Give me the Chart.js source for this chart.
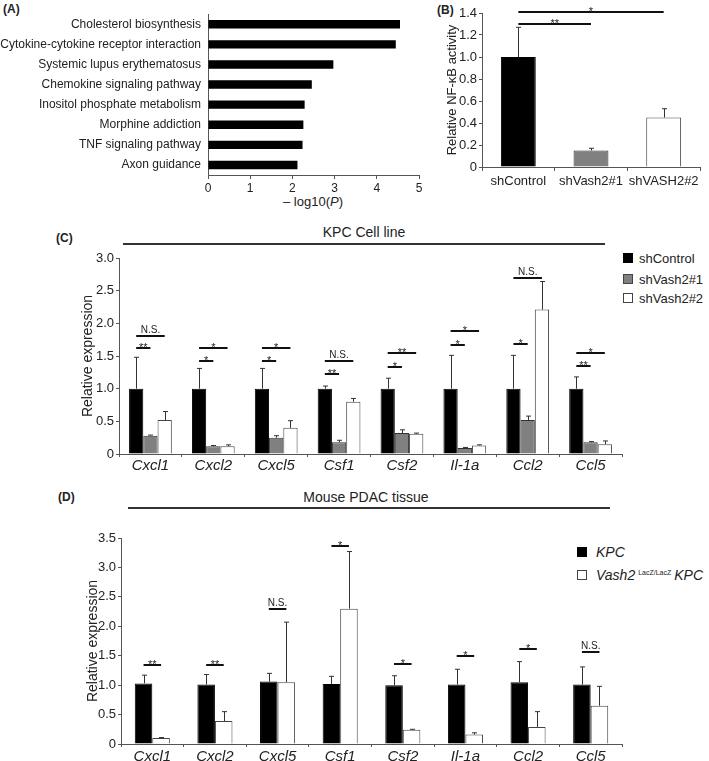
<!DOCTYPE html>
<html>
<head>
<meta charset="utf-8">
<script src="https://cdn.jsdelivr.net/npm/chart.js@4.4.1/dist/chart.umd.min.js"></script>
<style>
body{margin:0;background:#fff;width:709px;height:761px;position:relative;overflow:hidden;font-family:"Liberation Sans",Arial,sans-serif;color:#222;}
canvas{position:absolute;}
.t{position:absolute;white-space:nowrap;line-height:1;}
.lbl{font-weight:bold;font-size:12px;}
.head{font-size:14px;transform:translateX(-50%);}
.hline{position:absolute;height:2px;background:#333;}
.sq{position:absolute;width:10px;height:10px;box-sizing:border-box;border:1px solid #444;}
.leg{font-size:13px;}
</style>
</head>
<body>

<div class="t lbl" style="left:3px;top:3px">(A)</div>
<div class="t lbl" style="left:437px;top:4px">(B)</div>
<div class="t lbl" style="left:56px;top:232px">(C)</div>
<div class="t lbl" style="left:58px;top:491px">(D)</div>

<div class="t head" style="left:364px;top:225px">KPC Cell line</div>
<div class="hline" style="left:123px;top:243px;width:482px"></div>
<div class="t head" style="left:366px;top:490px">Mouse PDAC tissue</div>
<div class="hline" style="left:128px;top:507px;width:482px"></div>

<div class="t" style="left:313px;top:195px;font-size:13px;transform:translateX(-50%)">– log10(<i>P</i>)</div>

<div class="sq" style="left:623px;top:253px;background:#000;border-color:#000"></div>
<div class="t leg" style="left:639px;top:252px">shControl</div>
<div class="sq" style="left:623px;top:274px;background:#808080"></div>
<div class="t leg" style="left:639px;top:273px">shVash2#1</div>
<div class="sq" style="left:623px;top:293px;background:#fff"></div>
<div class="t leg" style="left:639px;top:292px">shVash2#2</div>

<div class="sq" style="left:577px;top:547px;background:#000;border-color:#000"></div>
<div class="t leg" style="left:596px;top:545px;font-size:14px;font-style:italic">KPC</div>
<div class="sq" style="left:577px;top:570px;background:#fff"></div>
<div class="t leg" style="left:596px;top:568px;font-size:14px"><i>Vash2</i><span style="font-size:7px;vertical-align:5px;margin-left:3px;margin-right:3px">LacZ/LacZ</span><i>KPC</i></div>

<canvas id="chartA" width="470" height="212" style="left:0;top:0"></canvas>
<canvas id="chartB" width="309" height="200" style="left:400px;top:0"></canvas>
<canvas id="chartC" width="709" height="250" style="left:0;top:225px"></canvas>
<canvas id="chartD" width="709" height="246" style="left:0;top:515px"></canvas>

<script>
// (A) pathway enrichment
const pathwayNames = ["Cholesterol biosynthesis","Cytokine-cytokine receptor interaction","Systemic lupus erythematosus","Chemokine signaling pathway","Inositol phosphate metabolism","Morphine addiction","TNF signaling pathway","Axon guidance"];
const pathwayLogP = [4.55, 4.45, 2.97, 2.46, 2.29, 2.26, 2.24, 2.12];

// (B) NF-kB reporter
const nfkbGroups = ["shControl","shVash2#1","shVASH2#2"];
const nfkbActivity = [1.0, 0.15, 0.45];
const nfkbErrTop = [1.27, 0.17, 0.53];
const nfkbSigTop = [1.30, 1.41];
const nfkbSigText = ["**","*"];

// (C) KPC cell line
const genes = ["Cxcl1","Cxcl2","Cxcl5","Csf1","Csf2","Il-1a","Ccl2","Ccl5"];
const cellControl = [1, 1, 1, 1, 1, 1, 1, 1];
const cellControlErr = [1.48, 1.31, 1.31, 1.04, 1.16, 1.51, 1.51, 1.18];
const cellSh1 = [0.28, 0.12, 0.25, 0.18, 0.32, 0.09, 0.52, 0.18];
const cellSh1Err = [0.29, 0.13, 0.28, 0.21, 0.37, 0.10, 0.58, 0.19];
const cellSh2 = [0.52, 0.12, 0.40, 0.80, 0.31, 0.13, 2.21, 0.15];
const cellSh2Err = [0.65, 0.14, 0.51, 0.85, 0.32, 0.14, 2.64, 0.20];
const cellSigNear = [1.62, 1.43, 1.43, 1.22, 1.33, 1.67, 1.69, 1.34];
const cellSigNearText = ["**","*","*","**","*","*","*","**"];
const cellSigFar = [1.81, 1.62, 1.62, 1.43, 1.54, 1.89, 2.70, 1.54];
const cellSigFarText = ["N.S.","*","*","N.S.","**","*","N.S.","*"];

// (D) mouse PDAC tissue
const tissueKPC = [1.03, 1.01, 1.06, 1.02, 1.00, 1.01, 1.05, 1.01];
const tissueKPCErr = [1.17, 1.18, 1.20, 1.15, 1.16, 1.27, 1.40, 1.31];
const tissueVash2 = [0.10, 0.39, 1.05, 2.30, 0.24, 0.16, 0.29, 0.65];
const tissueVash2Err = [0.11, 0.55, 2.07, 3.27, 0.25, 0.19, 0.55, 0.98];
const tissueSig = [1.35, 1.35, 2.30, 3.37, 1.36, 1.49, 1.61, 1.57];
const tissueSigText = ["**","**","N.S.","*","*","*","*","N.S."];

Chart.defaults.font.family = "'Liberation Sans', Arial, sans-serif";
Chart.defaults.color = "#222";
Chart.defaults.animation = false;

const axisColor = "#555";
const fmt = v => v === 0 ? "0" : v.toFixed(1);

function errorBars(errs){
  return {
    id: "errorBars",
    afterDatasetsDraw(chart){
      const ctx = chart.ctx, ys = chart.scales.y;
      ctx.save();
      ctx.strokeStyle = "#333";
      ctx.lineWidth = 1;
      errs.forEach((err, i) => {
        if(!err) return;
        chart.getDatasetMeta(i).data.forEach((bar, j) => {
          const x = Math.round(bar.x) + 0.5;
          const top = ys.getPixelForValue(err[j]);
          ctx.beginPath();
          ctx.moveTo(x, bar.y);
          ctx.lineTo(x, top);
          ctx.moveTo(x - 2.5, top);
          ctx.lineTo(x + 2.5, top);
          ctx.stroke();
        });
      });
      ctx.restore();
    }
  };
}

// items: [dsFrom, idxFrom, dsTo, idxTo, value, text]
function sigLines(items){
  return {
    id: "sigLines",
    afterDatasetsDraw(chart){
      const ctx = chart.ctx, ys = chart.scales.y;
      ctx.save();
      ctx.strokeStyle = "#111";
      ctx.fillStyle = "#222";
      ctx.lineWidth = 2;
      ctx.textAlign = "center";
      items.forEach(it => {
        const x1 = chart.getDatasetMeta(it[0]).data[it[1]].x;
        const x2 = chart.getDatasetMeta(it[2]).data[it[3]].x;
        const y = Math.round(ys.getPixelForValue(it[4]));
        ctx.beginPath();
        ctx.moveTo(x1, y);
        ctx.lineTo(x2, y);
        ctx.stroke();
        if(it[5] === "N.S."){
          ctx.font = "10px 'Liberation Sans', Arial";
          ctx.fillText(it[5], (x1 + x2) / 2, y - 3);
        } else {
          ctx.font = "11px 'Liberation Sans', Arial";
          ctx.fillText(it[5], (x1 + x2) / 2, y + 3);
        }
      });
      ctx.restore();
    }
  };
}

/* (A) */
new Chart(document.getElementById("chartA"), {
  type: "bar",
  data: {
    labels: pathwayNames,
    datasets: [{data: pathwayLogP, backgroundColor: "#000", barPercentage: 0.42, categoryPercentage: 1}]
  },
  options: {
    indexAxis: "y",
    responsive: false,
    layout: {padding: {top: 13, right: 51, left: 0, bottom: 0}},
    plugins: {legend: {display: false}, tooltip: {enabled: false}},
    scales: {
      x: {
        min: 0, max: 5,
        ticks: {stepSize: 1, font: {size: 12}, padding: 2, maxRotation: 0},
        grid: {drawOnChartArea: false, tickLength: 4, color: axisColor},
        border: {color: axisColor},
        afterFit: s => { s.height = 37; }
      },
      y: {
        ticks: {font: {size: 12}, padding: 7, autoSkip: false},
        grid: {drawOnChartArea: false, drawTicks: false, color: axisColor},
        border: {color: axisColor},
        afterFit: s => { s.width = 208; }
      }
    }
  }
});

/* (B) */
new Chart(document.getElementById("chartB"), {
  type: "bar",
  data: {
    labels: nfkbGroups,
    datasets: [{
      data: nfkbActivity,
      backgroundColor: ["#000", "#808080", "#fff"],
      borderColor: ["#000", "#333", "#444"],
      borderWidth: 1,
      barPercentage: 0.48, categoryPercentage: 1
    }]
  },
  options: {
    responsive: false,
    layout: {padding: {top: 13, right: 9, left: 41, bottom: 0}},
    plugins: {legend: {display: false}, tooltip: {enabled: false}},
    scales: {
      x: {
        ticks: {font: {size: 13}, padding: 3, maxRotation: 0, autoSkip: false},
        grid: {drawOnChartArea: false, tickLength: 4, color: axisColor},
        border: {color: axisColor},
        afterFit: s => { s.height = 33; }
      },
      y: {
        min: 0, max: 1.4,
        ticks: {stepSize: 0.2, font: {size: 13}, padding: 2, callback: fmt},
        title: {display: true, text: "Relative NF-κB activity", font: {size: 13}},
        grid: {drawOnChartArea: false, tickLength: 3, color: axisColor},
        border: {color: axisColor},
        afterFit: s => { s.width = 41; }
      }
    }
  },
  plugins: [
    errorBars([nfkbErrTop]),
    sigLines([
      [0, 0, 0, 1, nfkbSigTop[0], nfkbSigText[0]],
      [0, 0, 0, 2, nfkbSigTop[1], nfkbSigText[1]]
    ])
  ]
});

/* (C) */
const cellSigItems = [];
genes.forEach((g, i) => {
  cellSigItems.push([0, i, 1, i, cellSigNear[i], cellSigNearText[i]]);
  cellSigItems.push([0, i, 2, i, cellSigFar[i], cellSigFarText[i]]);
});

new Chart(document.getElementById("chartC"), {
  type: "bar",
  data: {
    labels: genes,
    datasets: [
      {label: "shControl", data: cellControl, backgroundColor: "#000", borderColor: "#000", borderWidth: 1},
      {label: "shVash2#1", data: cellSh1, backgroundColor: "#808080", borderColor: "#333", borderWidth: 1},
      {label: "shVash2#2", data: cellSh2, backgroundColor: "#fff", borderColor: "#444", borderWidth: 1}
    ]
  },
  options: {
    responsive: false,
    datasets: {bar: {barPercentage: 1, categoryPercentage: 0.68}},
    layout: {padding: {top: 33, right: 87, left: 76, bottom: 0}},
    plugins: {legend: {display: false}, tooltip: {enabled: false}},
    scales: {
      x: {
        ticks: {font: {size: 15, style: "italic"}, padding: 0, maxRotation: 0, autoSkip: false},
        grid: {drawOnChartArea: false, tickLength: 3, color: axisColor},
        border: {color: axisColor},
        afterFit: s => { s.height = 21; }
      },
      y: {
        min: 0, max: 3,
        ticks: {stepSize: 0.5, font: {size: 13}, padding: 2, callback: fmt},
        title: {display: true, text: "Relative expression", font: {size: 14}},
        grid: {drawOnChartArea: false, tickLength: 3, color: axisColor},
        border: {color: axisColor},
        afterFit: s => { s.width = 43; }
      }
    }
  },
  plugins: [errorBars([cellControlErr, cellSh1Err, cellSh2Err]), sigLines(cellSigItems)]
});

/* (D) */
const tissueSigItems = genes.map((g, i) => [0, i, 1, i, tissueSig[i], tissueSigText[i]]);

new Chart(document.getElementById("chartD"), {
  type: "bar",
  data: {
    labels: genes,
    datasets: [
      {label: "KPC", data: tissueKPC, backgroundColor: "#000", borderColor: "#000", borderWidth: 1},
      {label: "Vash2 LacZ/LacZ KPC", data: tissueVash2, backgroundColor: "#fff", borderColor: "#444", borderWidth: 1}
    ]
  },
  options: {
    responsive: false,
    datasets: {bar: {barPercentage: 1, categoryPercentage: 0.56}},
    layout: {padding: {top: 23, right: 87, left: 81, bottom: 0}},
    plugins: {legend: {display: false}, tooltip: {enabled: false}},
    scales: {
      x: {
        ticks: {font: {size: 15, style: "italic"}, padding: 1, maxRotation: 0, autoSkip: false},
        grid: {drawOnChartArea: false, tickLength: 3, color: axisColor},
        border: {color: axisColor},
        afterFit: s => { s.height = 17; }
      },
      y: {
        min: 0, max: 3.5,
        ticks: {stepSize: 0.5, font: {size: 13}, padding: 2, callback: fmt},
        title: {display: true, text: "Relative expression", font: {size: 14}},
        grid: {drawOnChartArea: false, tickLength: 3, color: axisColor},
        border: {color: axisColor},
        afterFit: s => { s.width = 40; }
      }
    }
  },
  plugins: [errorBars([tissueKPCErr, tissueVash2Err]), sigLines(tissueSigItems)]
});
</script>
</body>
</html>
